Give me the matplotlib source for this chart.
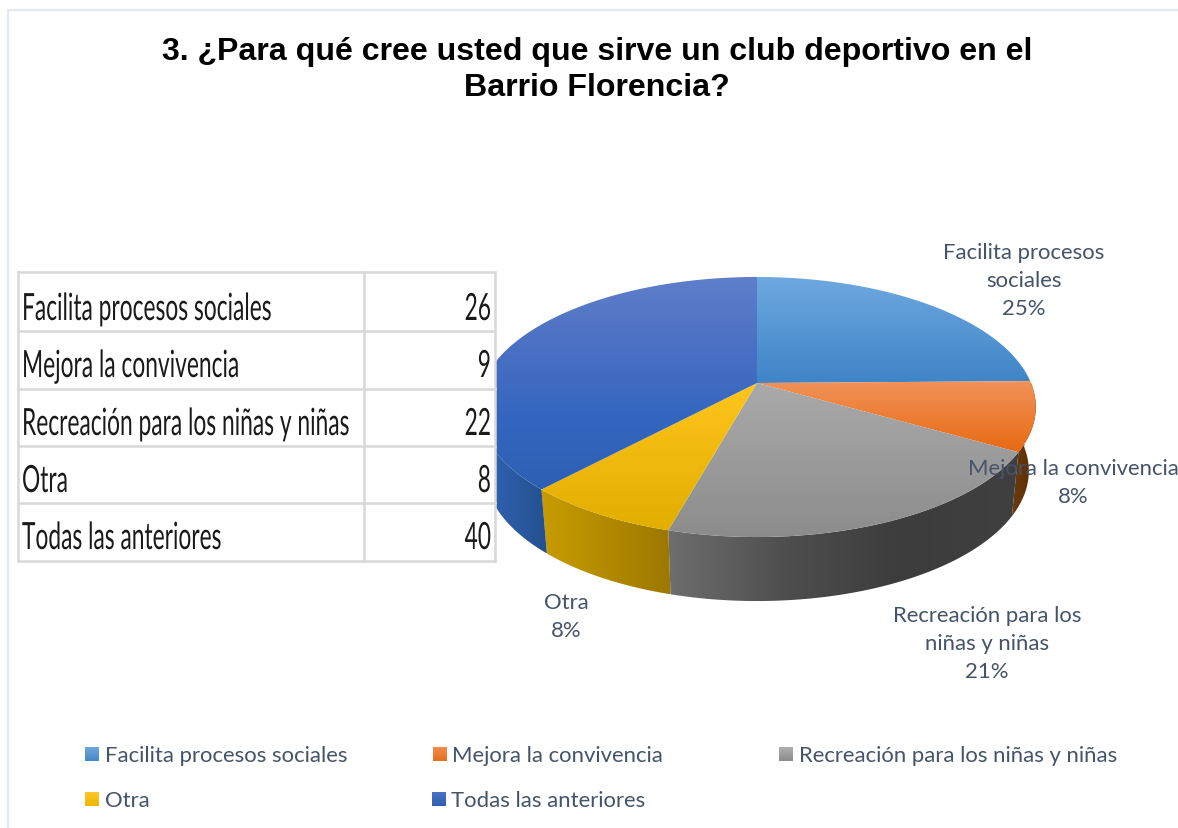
import matplotlib
matplotlib.use('Agg')
import matplotlib.pyplot as plt
from matplotlib.patches import Polygon, Rectangle
from matplotlib.colors import LinearSegmentedColormap
from matplotlib.patheffects import AbstractPathEffect
from matplotlib.transforms import Affine2D
import numpy as np

title = "3. ¿Para qué cree usted que sirve un club deportivo en el\nBarrio Florencia?"
categories = ["Facilita procesos sociales", "Mejora la convivencia",
              "Recreación para los niñas y niñas", "Otra", "Todas las anteriores"]
values = [26, 9, 22, 8, 40]
slice_labels = ["Facilita procesos\nsociales\n25%", "Mejora la convivencia\n8%",
                "Recreación para los\nniñas y niñas\n21%", "Otra\n8%", None]
label_pos = [(1024, 281), (1073, 483), (987, 644), (566, 617), None]

top_colors = [("#6ea8e0", "#3f85c7"), ("#f2925a", "#e76a12"), ("#aaaaaa", "#8c8c8c"),
              ("#ffc51c", "#e2ae00"), ("#5f7fca", "#4a70c4", "#3566bf", "#2d60b4")]
wall_colors = [("#3a75b0", "#2c5f90"), ("#6b3a10", "#5a2c05"),
               ("#6e6e6e", "#4e4e4e", "#3c3c3c", "#404040"),
               ("#c89c00", "#9c7800"), ("#3365b8", "#24508f")]
legend_colors = [("#70a6dd", "#4488c8"), ("#f08c50", "#e86f1a"), ("#aeaeae", "#8c8c8c"),
                 ("#ffc72a", "#eeb500"), ("#4a72c4", "#2f60b0")]

W, H = 1178, 829
CX, CY = 757, 384
R = 274
K = 0.1846
A = 125.6
DEPTH = 64
SHRINK = 0.975

text_col = "#44546a"
label_font = "Lato"


class Squeeze(AbstractPathEffect):
    # the table in the picture is a stretched screenshot, so squeeze the text sideways
    def __init__(self, anchor, sx):
        super().__init__()
        self.anchor = anchor
        self.sx = sx

    def draw_path(self, renderer, gc, tpath, affine, rgbFace=None):
        squeeze = Affine2D().translate(-self.anchor, 0).scale(self.sx, 1).translate(self.anchor, 0)
        renderer.draw_path(gc, tpath, affine + squeeze, rgbFace)


def rim(theta):
    # theta runs clockwise from the top of the pie, in degrees
    t = np.radians(theta)
    u, v = np.sin(t), np.cos(t)
    d = 1 + K * v
    return CX + R * u / d, CY - A * v / d


def grad_fill(ax, pts, colors, vertical=True, zorder=2):
    pts = np.array(pts)
    x0, y0 = pts.min(axis=0)
    x1, y1 = pts.max(axis=0)
    cmap = LinearSegmentedColormap.from_list("g", list(colors))
    g = np.linspace(0, 1, 200)
    g = g.reshape(-1, 1) if vertical else g.reshape(1, -1)
    im = ax.imshow(g, extent=(x0, x1, y1, y0), cmap=cmap, aspect="auto",
                   interpolation="bilinear", zorder=zorder)
    poly = Polygon(pts, closed=True, transform=ax.transData, fill=False, lw=0)
    ax.add_patch(poly)
    im.set_clip_path(poly)


fig = plt.figure(figsize=(W / 100, H / 100), dpi=100)
ax = fig.add_axes([0, 0, 1, 1])
ax.axis("off")

# frame of the chart area
ax.plot([8, 8, W], [H, 11, 11], color="#e3e7ef", lw=1.6, zorder=1)

ax.text(597, 70, title, ha="center", va="center", fontsize=23.1, fontweight="bold",
        family="Liberation Sans", color="black", linespacing=1.29, zorder=6)

angles = np.cumsum([0] + values) / sum(values) * 360

# side walls first, only the front half can be seen
for i in range(len(values)):
    a0, a1 = max(angles[i], 90), min(angles[i + 1], 270)
    if a1 <= a0:
        continue
    th = np.linspace(a0, a1, 80)
    x, y = rim(th)
    xb = CX + (x - CX) * SHRINK
    yb = y + DEPTH
    pts = list(zip(x, y)) + list(zip(xb[::-1], yb[::-1]))
    grad_fill(ax, pts, wall_colors[i], vertical=False, zorder=2)

# top faces
for i in range(len(values)):
    th = np.linspace(angles[i], angles[i + 1], 120)
    x, y = rim(th)
    pts = [(CX, CY)] + list(zip(x, y))
    grad_fill(ax, pts, top_colors[i], zorder=3)

# table sits on top of the pie
row_y = [273, 332, 390, 447, 504, 562]
row_base = [321, 378, 436, 493, 550]
tx0, tx1, tsplit = 18, 495, 364
ax.add_patch(Rectangle((tx0, row_y[0]), tx1 - tx0, row_y[-1] - row_y[0], fc="white", ec="none", zorder=4))
for y in row_y:
    ax.plot([tx0, tx1], [y, y], color="#d8d8d8", lw=1.8, zorder=5)
for x in [tx0, tsplit, tx1]:
    ax.plot([x, x], [row_y[0], row_y[-1]], color="#d8d8d8", lw=1.8, zorder=5)
for i, (c, v) in enumerate(zip(categories, values)):
    ax.text(22, row_base[i], c, ha="left", va="baseline", fontsize=27, family=label_font,
            color="#1a1a1a", zorder=6, path_effects=[Squeeze(22, 0.607)])
    ax.text(491, row_base[i], str(v), ha="right", va="baseline", fontsize=27, family=label_font,
            color="#1a1a1a", zorder=6, path_effects=[Squeeze(491, 0.607)])

# slice labels
for lab, pos in zip(slice_labels, label_pos):
    if lab is None:
        continue
    ax.text(pos[0], pos[1], lab, ha="center", va="center", fontsize=15.9, family=label_font,
            color=text_col, linespacing=1.52, zorder=7)

# legend
leg_x = [(85, 105), (433, 452), (779, 799), (85, 105), (432, 451)]
leg_y = [755, 755, 755, 800, 800]
for i, c in enumerate(categories):
    sx, tx = leg_x[i]
    yc = leg_y[i]
    box = [(sx, yc - 7), (sx + 14, yc - 7), (sx + 14, yc + 7), (sx, yc + 7)]
    grad_fill(ax, box, legend_colors[i], zorder=3)
    ax.text(tx, yc + 1, c, ha="left", va="center", fontsize=15.9, family=label_font, color=text_col, zorder=6)

ax.set_xlim(0, W)
ax.set_ylim(H, 0)
fig.savefig("out.png", dpi=100, facecolor="white")
